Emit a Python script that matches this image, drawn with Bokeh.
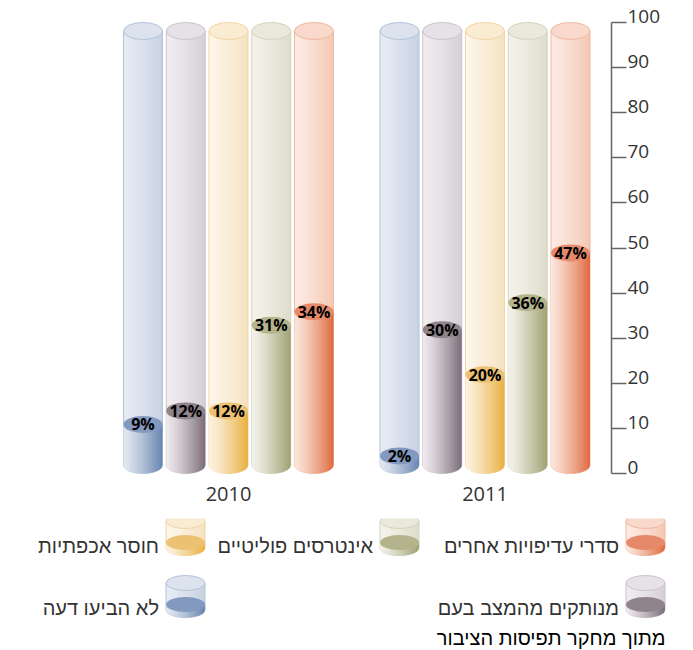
import numpy as np
from bokeh.plotting import figure
from bokeh.models import Range1d, LinearAxis, FixedTicker
from bokeh.embed import file_html
from bokeh.resources import INLINE
from bokeh.core.properties import value

# ---------------- data ----------------
YEARS = ["2010", "2011"]
CATEGORIES = ["לא הביעו דעה", "מנותקים מהמצב בעם", "חוסר אכפתיות",
              "אינטרסים פוליטיים", "סדרי עדיפויות אחרים"]
VALUES_2010 = [9, 12, 12, 31, 34]
VALUES_2011 = [2, 30, 20, 36, 47]
Y_TICKS = [0, 10, 20, 30, 40, 50, 60, 70, 80, 90, 100]
Y_MAX = 100
SOURCE_NOTE = "מתוך מחקר תפיסות הציבור"

# legend slots (row, column counted from the right) for each category
LEGEND_SLOTS = [(1, 2), (1, 0), (0, 2), (0, 1), (0, 0)]

# ---------------- styles ----------------
BODY_LEFT = ["#e2e8f1", "#eeeaee", "#fdf2e0", "#f2f2e9", "#fbe6dc"]
BODY_RIGHT = ["#6785b0", "#7b6d78", "#e8b040", "#a0a172", "#df6a40"]
TOP_COL = ["#8399bf", "#8f838c", "#ecc172", "#b3b38c", "#e6896a"]
BG_LEFT = ["#e7ecf4", "#f0edf0", "#fdf6ea", "#f3f3ec", "#fcebe3"]
BG_RIGHT = ["#c6d1e2", "#d5cfd5", "#f5e2bf", "#dedcc9", "#f4c7b2"]
BG_TOP = ["#dce3ee", "#e6e1e6", "#faecd3", "#e9e9dc", "#f8d9cb"]
BG_LINE = ["#b4c2d9", "#cbc3cb", "#f0d6a6", "#d3d3bd", "#f0b8a0"]

FONT_NUM = "Open Sans"
FONT_HEB = "Liberation Sans"


def rgb(h):
    return [int(h[i:i + 2], 16) for i in (1, 3, 5)]


def mix(c1, c2, t):
    a, b = rgb(c1), rgb(c2)
    return "#%02x%02x%02x" % tuple(round(x + (y - x) * t) for x, y in zip(a, b))


def strips(xc, w, h, yb, yt, cl, cr, n=18, gamma=1.25):
    xs, ys, cols = [], [], []
    edges = np.linspace(xc - w, xc + w, n + 1)
    step = edges[1] - edges[0]
    for j in range(n):
        a = edges[j]
        b = edges[j + 1] + (step * 0.4 if j < n - 1 else 0.0)
        px = np.linspace(a, b, 5)
        u = np.clip((px - xc) / w, -1, 1)
        yc = yb - h * np.sqrt(1 - u ** 2)
        xs.append([a, b] + list(px[::-1]))
        ys.append([yt, yt] + list(yc[::-1]))
        cols.append(mix(cl, cr, ((j + 0.5) / n) ** gamma))
    return xs, ys, cols


def silhouette(xc, w, h, yb, yt):
    px = np.linspace(xc - w, xc + w, 40)
    u = np.clip((px - xc) / w, -1, 1)
    yc = yb - h * np.sqrt(1 - u ** 2)
    return [xc - w] + list(px) + [xc + w], [yt] + list(yc) + [yt]


# ---------------- chart figure ----------------
PX_X = 42.75           # px per x unit
PX_Y = 4.51            # px per percent
FIRST_BAR_PX = 142.5   # centre of first bar
AXIS_PX = 611          # frame right edge / y axis line
ZERO_PX = 473          # screen y of value 0
FRAME_H = 478
LABEL_SHIFT = 6 / PX_Y  # raise tick labels so that they sit on their ticks

x_range = Range1d(-FIRST_BAR_PX / PX_X, (AXIS_PX - FIRST_BAR_PX) / PX_X)
y_lo, y_hi = -(FRAME_H - ZERO_PX) / PX_Y, ZERO_PX / PX_Y
y_range = Range1d(y_lo, y_hi)

p = figure(width=693, height=518, x_range=x_range, y_range=y_range,
           output_backend="svg", toolbar_location=None,
           x_axis_location=None, y_axis_location=None,
           min_border_left=0, min_border_top=0, min_border_right=693 - AXIS_PX,
           min_border_bottom=518 - FRAME_H, title=None)
p.outline_line_color = None
p.grid.grid_line_color = None
p.extra_y_ranges = {"labels": Range1d(y_lo - LABEL_SHIFT, y_hi - LABEL_SHIFT)}

n_cat = len(CATEGORIES)
half_w = 19.5 / PX_X
half_h = 8.5 / PX_Y

series = [VALUES_2010, VALUES_2011]
bgx, bgy, bgc = [], [], []
slx, sly, slc = [], [], []
bg_top = dict(x=[], y=[], c=[], lc=[])
vx, vy, vc = [], [], []
v_top = dict(x=[], y=[], c=[])
labels = dict(x=[], y=[], t=[])
group_centres = []
for g, vals in enumerate(series):
    group_centres.append(g * (n_cat + 1) + (n_cat - 1) / 2)
    for i, v in enumerate(vals):
        xc = g * (n_cat + 1) + i
        yb = half_h
        ytop_bg = Y_MAX - half_h
        a, b, c = strips(xc, half_w, half_h, yb, ytop_bg, BG_LEFT[i], BG_RIGHT[i])
        bgx += a; bgy += b; bgc += c
        sx, sy = silhouette(xc, half_w, half_h, yb, ytop_bg)
        slx.append(sx); sly.append(sy); slc.append(BG_LINE[i])
        bg_top["x"].append(xc); bg_top["y"].append(ytop_bg)
        bg_top["c"].append(BG_TOP[i]); bg_top["lc"].append(BG_LINE[i])
        yt = v + half_h
        a, b, c = strips(xc, half_w, half_h, yb, yt, BODY_LEFT[i], BODY_RIGHT[i])
        vx += a; vy += b; vc += c
        v_top["x"].append(xc); v_top["y"].append(yt); v_top["c"].append(TOP_COL[i])
        labels["x"].append(xc); labels["y"].append(yt); labels["t"].append(f"{v}%")

p.patches(xs=bgx, ys=bgy, fill_color=bgc, line_color=None)
p.multi_line(xs=slx, ys=sly, line_color=slc, line_width=1)
p.ellipse(x=bg_top["x"], y=bg_top["y"], width=2 * half_w, height=2 * half_h,
          fill_color=bg_top["c"], line_color=bg_top["lc"], line_width=1)
p.patches(xs=vx, ys=vy, fill_color=vc, line_color=None)
p.ellipse(x=v_top["x"], y=v_top["y"], width=2 * half_w, height=2 * half_h,
          fill_color=v_top["c"], line_color=None)
p.text(x=labels["x"], y=labels["y"], text=labels["t"], text_align="center",
       text_baseline="middle", text_font=value(FONT_NUM), text_font_style="bold",
       text_font_size="16px", text_color="#000000")

# axis line + ticks (no labels)
yaxis = LinearAxis(ticker=FixedTicker(ticks=Y_TICKS), bounds=(0, Y_MAX),
                   axis_line_color="#666666", axis_line_width=1.5,
                   major_tick_line_color="#666666", major_tick_line_width=1.3,
                   major_tick_out=15, major_tick_in=0,
                   minor_tick_line_color=None, major_label_standoff=0,
                   major_label_overrides={t: "" for t in Y_TICKS})
p.add_layout(yaxis, "right")
# tick labels, sitting on their ticks
ylab = LinearAxis(ticker=FixedTicker(ticks=Y_TICKS), y_range_name="labels",
                  axis_line_color=None, major_tick_line_color=None,
                  major_tick_out=0, major_tick_in=0,
                  minor_tick_line_color=None, major_label_standoff=1,
                  major_label_text_font=FONT_NUM,
                  major_label_text_font_size="19px",
                  major_label_text_color="#333333")
p.add_layout(ylab, "right")

xaxis = LinearAxis(ticker=FixedTicker(ticks=group_centres),
                   major_label_overrides={c: y for c, y in zip(group_centres, YEARS)},
                   axis_line_color=None, major_tick_line_color=None,
                   major_tick_out=0, major_tick_in=0,
                   minor_tick_line_color=None, major_label_standoff=8,
                   major_label_text_font=FONT_NUM,
                   major_label_text_font_size="20px",
                   major_label_text_color="#333333")
p.add_layout(xaxis, "below")

# ---------------- legend figure (screen-like coordinates, y = -px) ----------------
TOP2 = 518
H2 = 650 - TOP2
q = figure(width=693, height=H2, x_range=Range1d(0, 693), y_range=Range1d(-650, -TOP2),
           output_backend="svg", toolbar_location=None,
           x_axis_location=None, y_axis_location=None,
           min_border=0, title=None)
q.outline_line_color = None
q.grid.grid_line_color = None

COL_X = [645, 399, 185]      # swatch centres, right to left
ROW_TOP = [513, 575]         # swatch top edges
sw_w, sw_h = 19.5, 7.5
lgx, lgy, lgc = [], [], []
lsx, lsy, lsc = [], [], []
lbt = dict(x=[], y=[], c=[], lc=[])
lvx, lvy, lvc = [], [], []
lvt = dict(x=[], y=[], c=[])
ltx = dict(x=[], y=[], t=[])
for i, (r, cidx) in enumerate(LEGEND_SLOTS):
    xc = COL_X[cidx]
    ytop = -(ROW_TOP[r] + sw_h)
    yfill = -(ROW_TOP[r] + 29)
    ybot = -(ROW_TOP[r] + 34.5)
    a, b, c = strips(xc, sw_w, sw_h, ybot, ytop, BG_LEFT[i], BG_RIGHT[i], n=14)
    lgx += a; lgy += b; lgc += c
    sx, sy = silhouette(xc, sw_w, sw_h, ybot, ytop)
    lsx.append(sx); lsy.append(sy); lsc.append(BG_LINE[i])
    lbt["x"].append(xc); lbt["y"].append(ytop); lbt["c"].append(BG_TOP[i]); lbt["lc"].append(BG_LINE[i])
    a, b, c = strips(xc, sw_w, sw_h, ybot, yfill, BODY_LEFT[i], BODY_RIGHT[i], n=14)
    lvx += a; lvy += b; lvc += c
    lvt["x"].append(xc); lvt["y"].append(yfill); lvt["c"].append(TOP_COL[i])
    ltx["x"].append(xc - sw_w - 7); ltx["y"].append(-(ROW_TOP[r] + 32)); ltx["t"].append(CATEGORIES[i])

q.patches(xs=lgx, ys=lgy, fill_color=lgc, line_color=None)
q.multi_line(xs=lsx, ys=lsy, line_color=lsc, line_width=1)
q.ellipse(x=lbt["x"], y=lbt["y"], width=2 * sw_w, height=2 * sw_h,
          fill_color=lbt["c"], line_color=lbt["lc"], line_width=1)
q.patches(xs=lvx, ys=lvy, fill_color=lvc, line_color=None)
q.ellipse(x=lvt["x"], y=lvt["y"], width=2 * sw_w, height=2 * sw_h,
          fill_color=lvt["c"], line_color=None)
q.text(x=ltx["x"], y=ltx["y"], text=ltx["t"], text_align="right",
       text_baseline="middle", text_font=value(FONT_HEB),
       text_font_size="20px", text_color="#333333")
q.text(x=[665], y=[-637], text=[SOURCE_NOTE], text_align="right",
       text_baseline="middle", text_font=value(FONT_HEB),
       text_font_size="20px", text_color="#000000")

open("out.html", "w").write(file_html([p, q], INLINE))
